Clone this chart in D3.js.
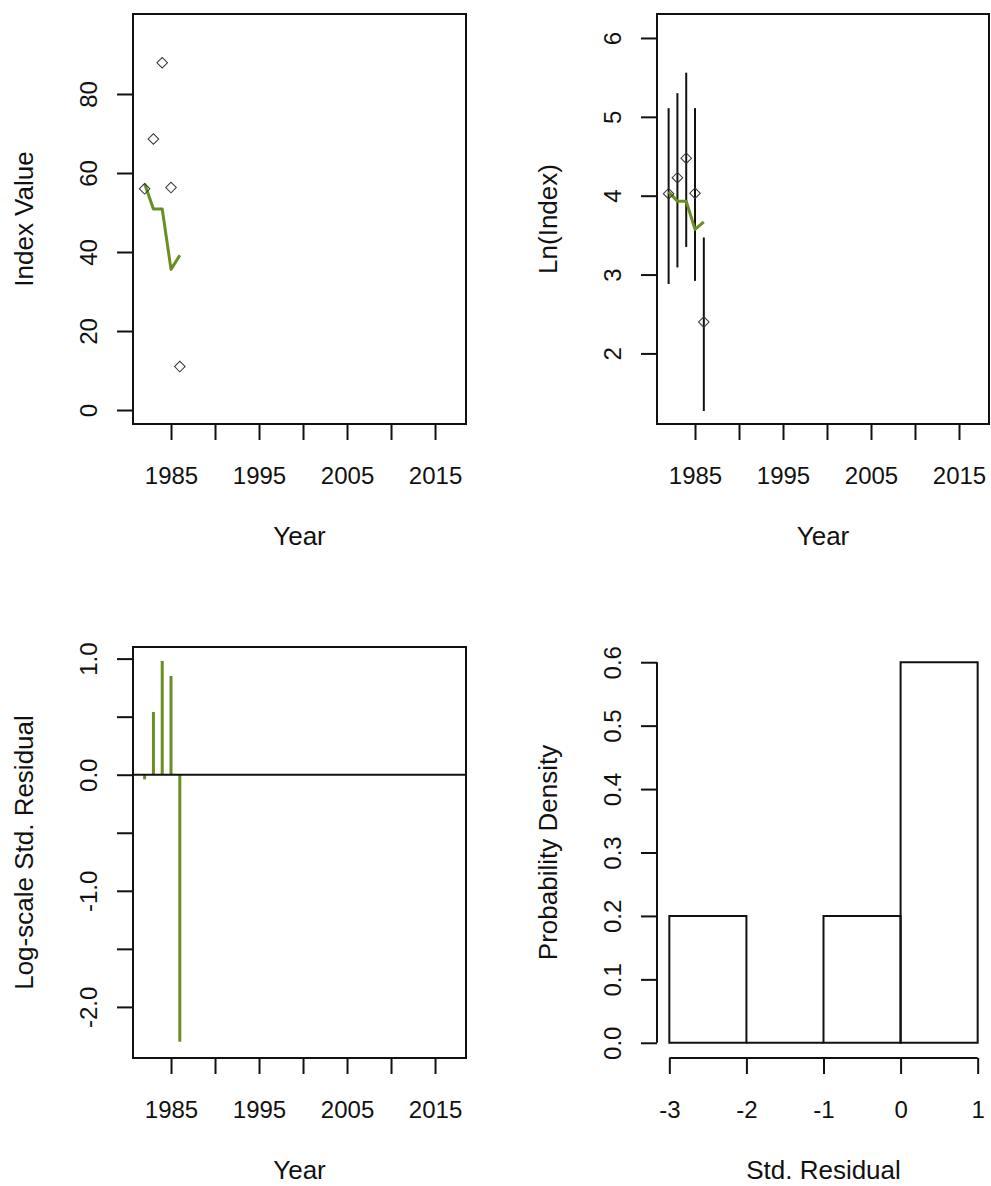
<!DOCTYPE html>
<html>
<head>
<meta charset="utf-8">
<script src="https://cdn.jsdelivr.net/npm/d3@7"></script>
<style>
  html, body { margin: 0; padding: 0; background: #fff; }
  svg { display: block; }
  text { font-family: "Liberation Sans", Arial, sans-serif; fill: #111; }
</style>
</head>
<body>
<div id="chart"></div>
<script>
// ---------------- data ----------------
const years = [1982, 1983, 1984, 1985, 1986];
const indexObs = [56.0, 68.6, 87.9, 56.3, 11.0];
const indexFit = [57.3, 50.9, 50.9, 35.6, 39.2];
const lnLower = [2.88, 3.09, 3.35, 2.92, 1.27];
const lnUpper = [5.11, 5.30, 5.56, 5.11, 3.47];
const stdResid = [-0.04, 0.54, 0.98, 0.85, -2.30];
const histBreaks = [-3, -2, -1, 0, 1];
const histDensity = [0.2, 0.0, 0.2, 0.6];

const yearTicks = [1985, 1990, 1995, 2000, 2005, 2010, 2015];
const yearLabels = [1985, 1995, 2005, 2015];
const p1Ticks = [0, 20, 40, 60, 80];
const p2Ticks = [2, 3, 4, 5, 6];
const p3Ticks = [-2, -1.5, -1, -0.5, 0, 0.5, 1];
const p3Labels = [-2, -1, 0, 1];
const p4YTicks = [0, 0.1, 0.2, 0.3, 0.4, 0.5, 0.6];
const p4XTicks = [-3, -2, -1, 0, 1];

// ---------------- layout ----------------
const W = 991, H = 1186;
const GREEN = "#6b8e23";
const TICK = 16;
const svg = d3.select("#chart").append("svg").attr("width", W).attr("height", H);

function bottomAxis(g, scale, ticks, labels, fmt) {
  const ax = d3.axisBottom(scale).tickValues(ticks).tickSize(TICK).tickSizeOuter(0)
    .tickFormat(d => labels.some(l => Math.abs(l - d) < 1e-9) ? fmt(d) : "");
  g.call(ax);
  g.select(".domain").remove();
  g.selectAll(".tick line").attr("stroke", "#111").attr("stroke-width", 2);
  g.selectAll(".tick text").attr("y", 60).attr("dy", 0)
    .attr("font-size", 24).attr("fill", "#111").attr("font-family", "Liberation Sans, Arial, sans-serif");
}
function leftAxis(g, scale, ticks, labels, fmt) {
  const ax = d3.axisLeft(scale).tickValues(ticks).tickSize(TICK).tickSizeOuter(0)
    .tickFormat(d => labels.some(l => Math.abs(l - d) < 1e-9) ? fmt(d) : "");
  g.call(ax);
  g.select(".domain").remove();
  g.selectAll(".tick line").attr("stroke", "#111").attr("stroke-width", 2);
  g.selectAll(".tick text").attr("transform", "rotate(-90)")
    .attr("x", 0).attr("y", -36).attr("dy", 0).attr("text-anchor", "middle")
    .attr("font-size", 24).attr("fill", "#111").attr("font-family", "Liberation Sans, Arial, sans-serif");
}
function box(x0, x1, y0, y1) {
  svg.append("rect").attr("x", x0).attr("y", y0).attr("width", x1 - x0).attr("height", y1 - y0)
    .attr("fill", "none").attr("stroke", "#111").attr("stroke-width", 2);
}
function titles(x0, x1, y0, y1, xt, yt) {
  svg.append("text").attr("x", (x0 + x1) / 2).attr("y", y1 + 121)
    .attr("text-anchor", "middle").attr("font-size", 26).text(xt);
  svg.append("text").attr("transform", `translate(${x0 - 100},${(y0 + y1) / 2}) rotate(-90)`)
    .attr("text-anchor", "middle").attr("font-size", 26).text(yt);
}
const diamond = d3.symbol().type(d3.symbolSquare).size(56);

// ---------------- panel 1: Index Value ----------------
{
  const x0 = 133, x1 = 466, y0 = 14, y1 = 424;
  const x = d3.scaleLinear().domain([1980.68, 2018.52]).range([x0, x1]);
  const y = d3.scaleLinear().domain([-3.54, 100.25]).range([y1, y0]);
  const g = svg.append("g");
  g.append("path").datum(years.map((yr, i) => [yr, indexFit[i]]))
    .attr("d", d3.line().x(d => x(d[0])).y(d => y(d[1])))
    .attr("fill", "none").attr("stroke", GREEN).attr("stroke-width", 3).attr("stroke-linejoin", "round");
  g.selectAll(".pt").data(years).join("path").attr("class", "pt")
    .attr("d", diamond).attr("transform", (d, i) => `translate(${x(d)},${y(indexObs[i])}) rotate(45)`)
    .attr("fill", "none").attr("stroke", "#333").attr("stroke-width", 1);
  box(x0, x1, y0, y1);
  bottomAxis(svg.append("g").attr("transform", `translate(0,${y1})`), x, yearTicks, yearLabels, d3.format("d"));
  leftAxis(svg.append("g").attr("transform", `translate(${x0},0)`), y, p1Ticks, p1Ticks, d3.format("d"));
  titles(x0, x1, y0, y1, "Year", "Index Value");
}

// ---------------- panel 2: Ln(Index) ----------------
{
  const x0 = 657, x1 = 989, y0 = 14, y1 = 424;
  const x = d3.scaleLinear().domain([1980.68, 2018.41]).range([x0, x1]);
  const y = d3.scaleLinear().domain([1.105, 6.304]).range([y1, y0]);
  const g = svg.append("g");
  g.selectAll(".ci").data(years).join("line").attr("class", "ci")
    .attr("x1", d => x(d)).attr("x2", d => x(d))
    .attr("y1", (d, i) => y(lnLower[i])).attr("y2", (d, i) => y(lnUpper[i]))
    .attr("stroke", "#111").attr("stroke-width", 2);
  g.append("path").datum(years.map((yr, i) => [yr, Math.log(indexFit[i])]))
    .attr("d", d3.line().x(d => x(d[0])).y(d => y(d[1])))
    .attr("fill", "none").attr("stroke", GREEN).attr("stroke-width", 3).attr("stroke-linejoin", "round");
  g.selectAll(".pt").data(years).join("path").attr("class", "pt")
    .attr("d", diamond).attr("transform", (d, i) => `translate(${x(d)},${y(Math.log(indexObs[i]))}) rotate(45)`)
    .attr("fill", "none").attr("stroke", "#333").attr("stroke-width", 1);
  box(x0, x1, y0, y1);
  bottomAxis(svg.append("g").attr("transform", `translate(0,${y1})`), x, yearTicks, yearLabels, d3.format("d"));
  leftAxis(svg.append("g").attr("transform", `translate(${x0},0)`), y, p2Ticks, p2Ticks, d3.format("d"));
  titles(x0, x1, y0, y1, "Year", "Ln(Index)");
}

// ---------------- panel 3: residuals ----------------
{
  const x0 = 133, x1 = 466, y0 = 647, y1 = 1058;
  const x = d3.scaleLinear().domain([1980.68, 2018.52]).range([x0, x1]);
  const y = d3.scaleLinear().domain([-2.44, 1.10]).range([y1, y0]);
  const g = svg.append("g");
  g.selectAll(".res").data(years).join("line").attr("class", "res")
    .attr("x1", d => x(d)).attr("x2", d => x(d))
    .attr("y1", y(0)).attr("y2", (d, i) => y(stdResid[i]))
    .attr("stroke", GREEN).attr("stroke-width", 3);
  g.append("line").attr("x1", x0).attr("x2", x1).attr("y1", y(0)).attr("y2", y(0))
    .attr("stroke", "#111").attr("stroke-width", 2);
  box(x0, x1, y0, y1);
  bottomAxis(svg.append("g").attr("transform", `translate(0,${y1})`), x, yearTicks, yearLabels, d3.format("d"));
  leftAxis(svg.append("g").attr("transform", `translate(${x0},0)`), y, p3Ticks, p3Labels, d3.format(".1f"));
  titles(x0, x1, y0, y1, "Year", "Log-scale Std. Residual");
}

// ---------------- panel 4: histogram ----------------
{
  const x0 = 657, x1 = 990, y0 = 647, y1 = 1058;
  const x = d3.scaleLinear().domain([-3.16, 1.16]).range([x0, x1]);
  const y = d3.scaleLinear().domain([-0.024, 0.624]).range([y1, y0]);
  const bins = histDensity.map((d, i) => ({ a: histBreaks[i], b: histBreaks[i + 1], d }));
  svg.append("g").selectAll("path").data(bins).join("path")
    .attr("d", d => `M${x(d.a)},${y(0)}V${y(d.d)}H${x(d.b)}V${y(0)}Z`)
    .attr("fill", "none").attr("stroke", "#111").attr("stroke-width", 2);
  // axes
  const gx = svg.append("g").attr("transform", `translate(0,${y1})`);
  bottomAxis(gx, x, p4XTicks, p4XTicks, d3.format("d"));
  gx.append("line").attr("x1", x(p4XTicks[0])).attr("x2", x(p4XTicks[p4XTicks.length - 1]))
    .attr("y1", 0).attr("y2", 0).attr("stroke", "#111").attr("stroke-width", 2);
  gx.selectAll(".tick text").text(d => d < 0 ? "-" + Math.abs(d) : d);
  const gy = svg.append("g").attr("transform", `translate(${x0},0)`);
  leftAxis(gy, y, p4YTicks, p4YTicks, d3.format(".1f"));
  gy.append("line").attr("x1", 0).attr("x2", 0).attr("y1", y(0)).attr("y2", y(0.6))
    .attr("stroke", "#111").attr("stroke-width", 2);
  gy.selectAll(".tick text").text(d => d3.format(".1f")(d));
  titles(x0, x1, y0, y1, "Std. Residual", "Probability Density");
}

// use ASCII hyphen-minus like the original on all tick labels
svg.selectAll(".tick text").each(function () {
  const t = d3.select(this).text();
  d3.select(this).text(t.replace(/\u2212/g, "-"));
});
</script>
</body>
</html>
